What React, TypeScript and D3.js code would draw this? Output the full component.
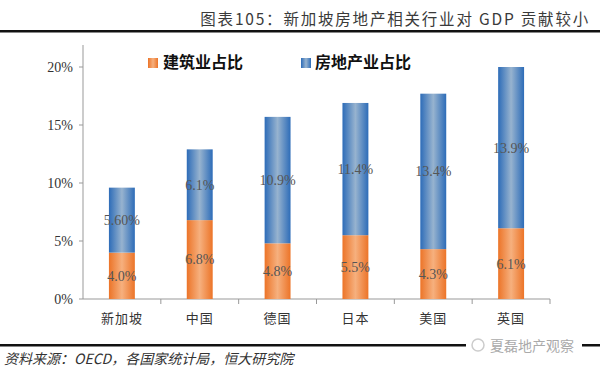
import * as d3 from 'd3';

const width = 600;
const height = 374;

// data
const countries = ['新加坡', '中国', '德国', '日本', '美国', '英国'];
const construction = [4.0, 6.8, 4.8, 5.5, 4.3, 6.1];
const realEstate = [5.6, 6.1, 10.9, 11.4, 13.4, 13.9];
const realEstateLabels = ['5.60%', '6.1%', '10.9%', '11.4%', '13.4%', '13.9%'];
const constructionLabels = ['4.0%', '6.8%', '4.8%', '5.5%', '4.3%', '6.1%'];
const yTicks = [0, 5, 10, 15, 20];

const serif = '"Liberation Serif", "Times New Roman", serif';
const cjk = '"Noto Sans CJK SC", sans-serif';

const margin = { left: 83, right: 50, top: 45, bottom: 75 };

export default function App() {
  const x = d3
    .scaleBand()
    .domain(countries)
    .range([margin.left, width - margin.right])
    .paddingInner(0.667)
    .paddingOuter(0.333);
  const band = d3
    .scaleBand()
    .domain(countries)
    .range([margin.left, width - margin.right]);
  const y = d3.scaleLinear().domain([0, 20]).range([299, 67]);

  const bw = x.bandwidth();

  return (
    <svg
      width={width}
      height={height}
      style={{ position: 'absolute', left: 0, top: 0, background: '#fff' }}
    >
      <defs>
        <linearGradient id="blueGrad" x1="0" x2="1" y1="0" y2="0">
          <stop offset="0%" stopColor="#2d6cb8" />
          <stop offset="50%" stopColor="#97b3cf" />
          <stop offset="100%" stopColor="#2d6cb8" />
        </linearGradient>
        <linearGradient id="orangeGrad" x1="0" x2="1" y1="0" y2="0">
          <stop offset="0%" stopColor="#ec7428" />
          <stop offset="50%" stopColor="#f6b07e" />
          <stop offset="100%" stopColor="#ec7428" />
        </linearGradient>
      </defs>

      {/* header */}
      <text
        x={590}
        y={25}
        textAnchor="end"
        fontFamily={cjk}
        fontSize={15.5}
        letterSpacing={1.8}
        fill="#3a3a3a"
      >
        图表105：新加坡房地产相关行业对 GDP 贡献较小
      </text>
      <rect x={0} y={30} width={600} height={2.5} fill="#111" />

      {/* y axis */}
      <line x1={margin.left} x2={margin.left} y1={45} y2={299} stroke="#999" strokeWidth={1} />
      {yTicks.map((t) => (
        <g key={t}>
          <line x1={margin.left - 4} x2={margin.left} y1={y(t)} y2={y(t)} stroke="#999" />
          <text
            x={margin.left - 10}
            y={y(t)}
            dy="0.35em"
            textAnchor="end"
            fontFamily={serif}
            fontSize={14}
            fill="#333"
          >
            {t}%
          </text>
        </g>
      ))}

      {/* x axis */}
      <line x1={margin.left} x2={width - margin.right} y1={299} y2={299} stroke="#999" />
      {countries.map((c) => (
        <line
          key={c}
          x1={(band(c) ?? 0) + band.bandwidth()}
          x2={(band(c) ?? 0) + band.bandwidth()}
          y1={299}
          y2={304}
          stroke="#999"
        />
      ))}
      {countries.map((c) => (
        <text
          key={c}
          x={(band(c) ?? 0) + band.bandwidth() / 2}
          y={323}
          textAnchor="middle"
          fontFamily={cjk}
          fontSize={13}
          fill="#333"
          letterSpacing={1}
        >
          {c}
        </text>
      ))}

      {/* bars */}
      {countries.map((c, i) => {
        const x0 = x(c) ?? 0;
        const c0 = construction[i];
        const r0 = realEstate[i];
        return (
          <g key={c}>
            <rect x={x0} y={y(c0)} width={bw} height={y(0) - y(c0)} fill="url(#orangeGrad)" />
            <rect
              x={x0}
              y={y(c0 + r0)}
              width={bw}
              height={y(c0) - y(c0 + r0)}
              fill="url(#blueGrad)"
            />
            <text
              x={x0 + bw / 2}
              y={y(c0 / 2)}
              dy="0.35em"
              textAnchor="middle"
              fontFamily={serif}
              fontSize={14}
              fill="#555"
            >
              {constructionLabels[i]}
            </text>
            <text
              x={x0 + bw / 2}
              y={y(c0 + r0 / 2)}
              dy="0.35em"
              textAnchor="middle"
              fontFamily={serif}
              fontSize={14}
              fill="#555"
            >
              {realEstateLabels[i]}
            </text>
          </g>
        );
      })}

      {/* legend */}
      <rect x={148} y={58} width={10} height={10} fill="url(#orangeGrad)" />
      <text x={163} y={68} fontFamily={cjk} fontWeight="bold" fontSize={16} fill="#111">
        建筑业占比
      </text>
      <rect x={301} y={58} width={10} height={10} fill="url(#blueGrad)" />
      <text x={315} y={68} fontFamily={cjk} fontWeight="bold" fontSize={16} fill="#111">
        房地产业占比
      </text>

      {/* footer */}
      <rect x={0} y={344} width={600} height={2.5} fill="#111" />
      <rect x={466} y={337} width={116} height={17} fill="#fff" />
      <circle cx={478} cy={345} r={6} fill="none" stroke="#ccc" strokeWidth={1.5} />
      <text x={490} y={351} fontFamily={cjk} fontSize={14} fill="#aaa">
        夏磊地产观察
      </text>
      <text
        x={4}
        y={364}
        fontFamily={cjk}
        fontStyle="italic"
        fontSize={14}
        fill="#333"
      >
        资料来源：OECD，各国家统计局，恒大研究院
      </text>
    </svg>
  );
}
